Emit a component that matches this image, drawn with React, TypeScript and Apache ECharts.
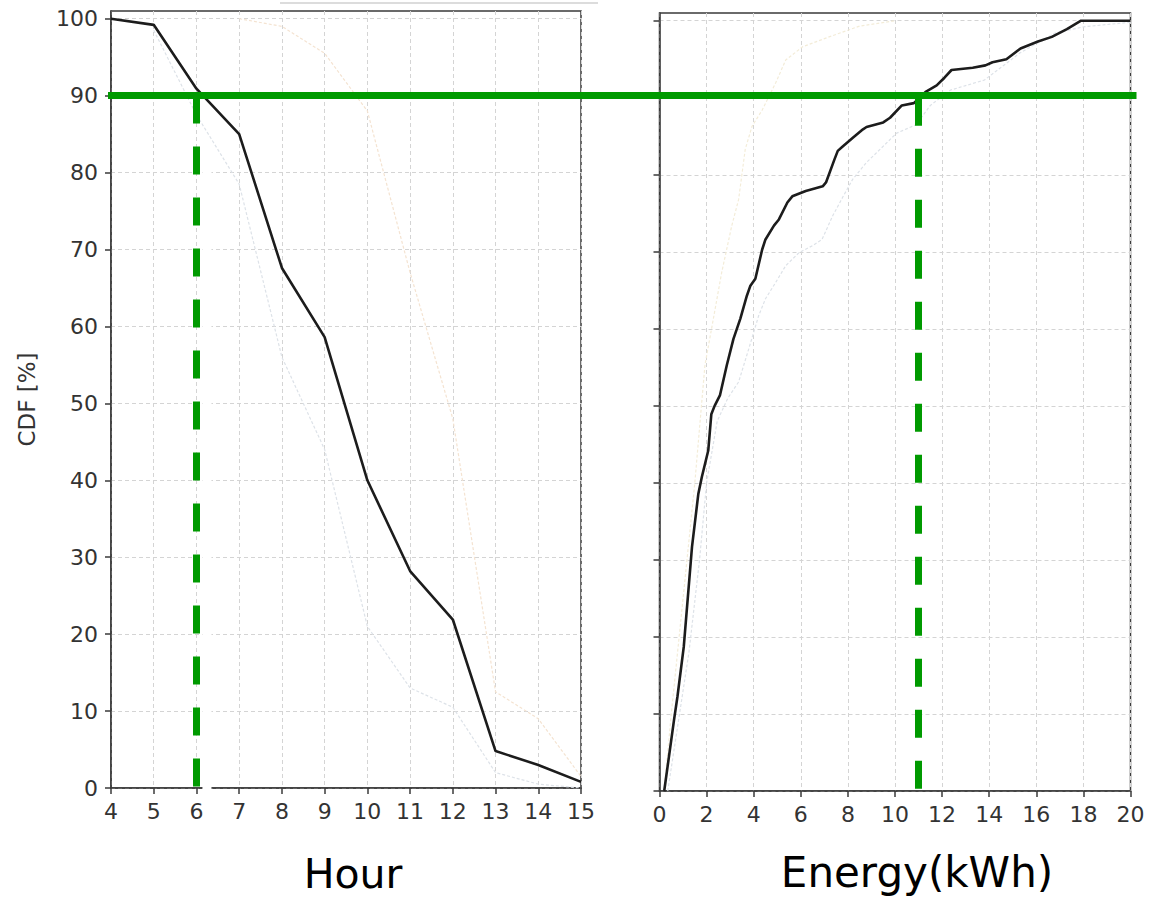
import React, { useEffect, useRef } from "react";
import * as echarts from "echarts";

// ---- data ----
const cdfTicks = [0, 10, 20, 30, 40, 50, 60, 70, 80, 90, 100];
const hourTicks = [4, 5, 6, 7, 8, 9, 10, 11, 12, 13, 14, 15];
const energyTicks = [0, 2, 4, 6, 8, 10, 12, 14, 16, 18, 20];

const hourX = [4, 5, 6, 7, 8, 9, 10, 11, 12, 13, 14, 15];
const hourCdf = [100, 99.2, 90.9, 85.0, 67.6, 58.6, 40.0, 28.2, 21.9, 4.8, 3.0, 0.8];

const hourGhostGrayX = [5, 6, 7, 8, 9, 10, 11, 12, 13, 14, 15];
const hourGhostGray = [98.5, 87.5, 78.5, 56, 44, 21, 13, 10.5, 2, 0.5, 0];
const hourGhostOrangeX = [7, 8, 9, 10, 11, 12, 13, 14, 15];
const hourGhostOrange = [100, 99, 95.5, 88, 67, 48, 12.5, 9, 1.5];

const energyX = [0.2, 0.62, 0.76, 1.03, 1.38, 1.65, 1.8, 2.07, 2.2, 2.34, 2.57, 2.86, 3.14, 3.43, 3.71, 3.86, 4.07, 4.36, 4.5, 4.86, 5.07, 5.43, 5.64, 6.21, 6.93, 7.07, 7.43, 7.57, 7.79, 8.21, 8.64, 8.79, 9.5, 9.79, 10.29, 10.8, 11.32, 11.77, 12.1, 12.4, 13.3, 13.84, 14.14, 14.73, 15.33, 16.07, 16.66, 17.3, 17.9, 20];
const energyCdf = [0, 9.3, 12.2, 18.7, 31.7, 38.6, 40.8, 44.2, 48.9, 50, 51.4, 55.3, 58.7, 61.3, 64.3, 65.6, 66.5, 70.3, 71.6, 73.4, 74.2, 76.4, 77.2, 77.9, 78.5, 79, 82, 83.1, 83.7, 84.8, 85.9, 86.2, 86.8, 87.4, 89.0, 89.3, 90.8, 91.6, 92.6, 93.6, 93.9, 94.2, 94.6, 95, 96.4, 97.3, 97.9, 98.9, 100, 100];

const energyGhostGrayX = [0.35, 0.8, 1.25, 1.7, 2.0, 2.45, 2.9, 3.36, 3.79, 4.21, 4.5, 4.93, 5.36, 5.93, 6.5, 6.9, 7.36, 7.8, 8.2, 8.79, 10.07, 10.9, 11.5, 12.36, 13.8, 15.3, 16.8, 18, 20];
const energyGhostGray = [0, 9, 18, 30, 40, 48, 51, 53.1, 57.4, 61.7, 63.9, 66, 68.2, 69.9, 70.8, 71.6, 74.7, 77.2, 79.4, 81.6, 85.4, 86.5, 89, 91, 92.3, 95.8, 98.4, 99.2, 99.8];
const energyGhostBeigeX = [0.2, 0.5, 1.0, 1.5, 1.93, 2.21, 2.64, 3.07, 3.36, 3.64, 3.93, 4.36, 4.93, 5.36, 6.07, 7.2, 8.5, 10];
const energyGhostBeige = [0, 10, 25, 40, 55.3, 60, 67.3, 73.4, 76.8, 83.3, 86.3, 88.4, 91.9, 94.9, 96.6, 97.9, 99.3, 100];

const hourThreshold = 6;
const energyThreshold = 11;
const cdfLevel = 90;

const pairs = (xs: number[], ys: number[]) => xs.map((x, i) => [x, ys[i]]);

const GREEN = "#009a00";
const SPINE = "#3a3a3a";
const FONT = "DejaVu Sans";

export default function App() {
  const ref = useRef<HTMLDivElement>(null);

  useEffect(() => {
    if (!ref.current) return;
    const chart = echarts.init(ref.current, undefined, { renderer: "svg" });

    const gridLine = { show: true, lineStyle: { color: "#d4d4d4", width: 1, type: [4, 3] as any } };
    const axisLine = { show: true, lineStyle: { color: SPINE, width: 1.5 } };
    const axisTick = (vals: number[]) => ({
      show: true,
      length: 6,
      inside: false,
      customValues: vals,
      lineStyle: { color: SPINE, width: 1.5 },
    });
    const label = (vals: number[], show = true, margin = 12) => ({
      show,
      customValues: vals,
      fontSize: 22,
      color: "#333",
      fontFamily: FONT,
      margin,
    });

    const dashedMark = (xv: number) => ({
      silent: true,
      symbol: ["none", "none"],
      label: { show: false },
      lineStyle: { color: GREEN, width: 7, type: [28, 23] as any },
      data: [[{ coord: [xv, cdfLevel] }, { coord: [xv, 0] }]],
    });

    chart.setOption({
      animation: false,
      backgroundColor: "#ffffff",
      grid: [
        { left: 111, top: 11, width: 470, height: 777, show: true, borderColor: SPINE, borderWidth: 1.5, backgroundColor: "transparent", containLabel: false, outerBoundsMode: "none" },
        { left: 659.5, top: 13, width: 471, height: 778, show: true, borderColor: SPINE, borderWidth: 1.5, backgroundColor: "transparent", containLabel: false, outerBoundsMode: "none" },
      ],
      xAxis: [
        {
          type: "value", gridIndex: 0, min: 4, max: 15, interval: 1,
          axisLine, axisTick: axisTick(hourTicks), axisLabel: label(hourTicks),
          splitLine: gridLine,
          name: "Hour", nameLocation: "middle", nameGap: 65,
          nameTextStyle: { fontSize: 41, color: "#000", fontFamily: FONT, padding: [0, 0, 0, 14] },
        },
        {
          type: "value", gridIndex: 1, min: 0, max: 20, interval: 2,
          axisLine, axisTick: axisTick(energyTicks), axisLabel: label(energyTicks),
          splitLine: gridLine,
          name: "Energy(kWh)", nameLocation: "middle", nameGap: 60,
          nameTextStyle: { fontSize: 42, color: "#000", fontFamily: FONT, padding: [0, 0, 0, 44] },
        },
      ],
      yAxis: [
        {
          type: "value", gridIndex: 0, min: 0, max: 101, interval: 10,
          axisLine, axisTick: axisTick(cdfTicks), axisLabel: label(cdfTicks, true, 13),
          splitLine: gridLine,
          name: "CDF [%]", nameLocation: "middle", nameGap: 73,
          nameTextStyle: { fontSize: 23, color: "#333", fontFamily: FONT },
        },
        {
          type: "value", gridIndex: 1, min: 0, max: 101, interval: 10,
          axisLine, axisTick: axisTick(cdfTicks), axisLabel: label(cdfTicks, false),
          splitLine: gridLine,
        },
      ],
      series: [
        {
          type: "line", xAxisIndex: 0, yAxisIndex: 0, symbol: "none", z: 2, silent: true,
          data: pairs(hourGhostGrayX, hourGhostGray),
          lineStyle: { color: "#dde2e8", width: 1.2, type: [3, 2] },
        },
        {
          type: "line", xAxisIndex: 0, yAxisIndex: 0, symbol: "none", z: 2, silent: true,
          data: pairs(hourGhostOrangeX, hourGhostOrange),
          lineStyle: { color: "#f4e3d1", width: 1.2, type: [3, 2] },
        },
        {
          type: "line", xAxisIndex: 0, yAxisIndex: 0, symbol: "none", z: 3,
          data: pairs(hourX, hourCdf),
          lineStyle: { color: "#1c1c1c", width: 2.6 },
          markLine: dashedMark(hourThreshold),
        },
        {
          type: "line", xAxisIndex: 1, yAxisIndex: 1, symbol: "none", z: 2, silent: true,
          data: pairs(energyGhostGrayX, energyGhostGray),
          lineStyle: { color: "#dde2e8", width: 1.2, type: [3, 2] },
        },
        {
          type: "line", xAxisIndex: 1, yAxisIndex: 1, symbol: "none", z: 2, silent: true,
          data: pairs(energyGhostBeigeX, energyGhostBeige),
          lineStyle: { color: "#f3ecd8", width: 1.2, type: [3, 2] },
        },
        {
          type: "line", xAxisIndex: 1, yAxisIndex: 1, symbol: "none", z: 3,
          data: pairs(energyX, energyCdf),
          lineStyle: { color: "#1c1c1c", width: 2.6 },
          markLine: dashedMark(energyThreshold),
        },
      ],
    });

    // annotations positioned from the axes' own scales
    const p0 = chart.convertToPixel({ gridIndex: 0 }, [hourTicks[0], cdfLevel]) as number[];
    const pEnd = chart.convertToPixel({ gridIndex: 1 }, [energyTicks[energyTicks.length - 1], cdfLevel]) as number[];
    const pTh = chart.convertToPixel({ gridIndex: 0 }, [hourThreshold, 0]) as number[];
    const pTop = chart.convertToPixel({ gridIndex: 0 }, [hourThreshold, cdfLevel]) as number[];

    chart.setOption({
      graphic: [
        {
          type: "rect", z: 1, silent: true,
          shape: { x: pTh[0] + 6, y: pTop[1] + 8, width: 9, height: pTh[1] - pTop[1] - 4 },
          style: { fill: "#ffffff" },
        },
        {
          type: "line", z: 10, silent: true,
          shape: { x1: p0[0] - 3, y1: p0[1], x2: pEnd[0] + 6, y2: p0[1] },
          style: { stroke: GREEN, lineWidth: 7 },
        },
        {
          type: "line", z: 10, silent: true,
          shape: { x1: 280, y1: 3, x2: 598, y2: 3 },
          style: { stroke: "#dcdcdc", lineWidth: 2 },
        },
      ],
    });

    return () => chart.dispose();
  }, []);

  return (
    <div
      ref={ref}
      style={{ position: "fixed", left: 0, top: 0, width: 1149, height: 897, background: "#fff" }}
    />
  );
}
